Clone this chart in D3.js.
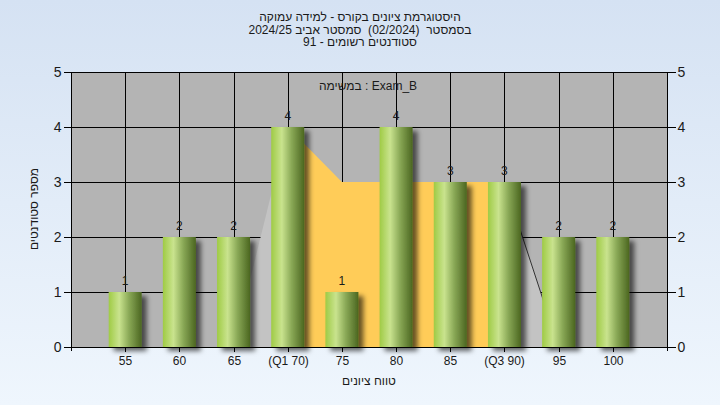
<!DOCTYPE html>
<html>
<head>
<meta charset="utf-8">
<script src="https://cdn.jsdelivr.net/npm/d3@7/dist/d3.min.js"></script>
<style>
  html, body { margin: 0; padding: 0; }
  body { width: 720px; height: 405px; overflow: hidden; }
  svg text { font-family: "Liberation Sans", Arial, sans-serif; fill: #1a1a1a; white-space: pre; }
</style>
</head>
<body>
<svg id="chart" width="720" height="405"></svg>
<script>
// ---- data ----
const categories = [55, 60, 65, 70, 75, 80, 85, 90, 95, 100];
const tickLabels = ["55", "60", "65", "(Q1 70)", "75", "80", "85", "(Q3 90)", "95", "100"];
const counts = [1, 2, 2, 4, 1, 4, 3, 3, 2, 2];
// overlay area (quartile band) : grade -> height
const areaGrades = [65, 70, 75, 80, 85, 90, 95];
const areaValues = [0, 4, 3, 3, 3, 3, 0];
const q1 = 70, q3 = 90;
const yTicks = [0, 1, 2, 3, 4, 5];
const titleLines = [
  "היסטוגרמת ציונים בקורס - למידה עמוקה",
  "בסמסטר  (02/2024)  סמסטר אביב 2024/25",
  "סטודנטים רשומים - 91"
];
const subtitle = "במשימה : Exam_B";
const xTitle = "טווח ציונים";
const yTitle = "מספר סטודנטים";

// ---- layout ----
const W = 720, H = 405;
const plot = { left: 71, right: 667, top: 72, bottom: 347 };
const svg = d3.select("#chart");
const defs = svg.append("defs");

const bg = defs.append("linearGradient").attr("id", "bg").attr("x1", 0).attr("y1", 0).attr("x2", 0).attr("y2", 1);
bg.append("stop").attr("offset", "0%").attr("stop-color", "#d5e2f3");
bg.append("stop").attr("offset", "100%").attr("stop-color", "#eff6fd");

const bar = defs.append("linearGradient").attr("id", "bar").attr("x1", 0).attr("y1", 0).attr("x2", 1).attr("y2", 0);
[["0%", "#9fcb45"], ["32%", "#c9e38e"], ["62%", "#89a856"], ["100%", "#4b6620"]].forEach(([o, c]) =>
  bar.append("stop").attr("offset", o).attr("stop-color", c));

const sh = defs.append("filter").attr("id", "shadow").attr("x", "-30%").attr("y", "-10%").attr("width", "170%").attr("height", "130%");
sh.append("feDropShadow").attr("dx", 5).attr("dy", 4).attr("stdDeviation", 2.4)
  .attr("flood-color", "#000").attr("flood-opacity", 0.6);

svg.append("rect").attr("width", W).attr("height", H).attr("fill", "url(#bg)");

const x = d3.scaleLinear().domain([50, 105]).range([plot.left, plot.right]);
const y = d3.scaleLinear().domain([0, 5]).range([plot.bottom, plot.top]);

// plot background
svg.append("rect").attr("x", plot.left).attr("y", plot.top)
  .attr("width", plot.right - plot.left).attr("height", plot.bottom - plot.top)
  .attr("fill", "#b4b4b4");

// grid
const grid = svg.append("g").attr("stroke", "#000").attr("stroke-width", 1).attr("shape-rendering", "crispEdges");
grid.selectAll("line.h").data(yTicks).join("line")
  .attr("x1", plot.left).attr("x2", plot.right)
  .attr("y1", d => Math.round(y(d)) + 0.5).attr("y2", d => Math.round(y(d)) + 0.5);
grid.selectAll("line.v").data(categories).join("line")
  .attr("y1", plot.top).attr("y2", plot.bottom)
  .attr("x1", d => Math.round(x(d)) + 0.5).attr("x2", d => Math.round(x(d)) + 0.5);

// overlay areas
const pts = areaGrades.map((g, i) => ({ g, v: areaValues[i] }));
const area = d3.area().x(d => x(d.g)).y0(y(0)).y1(d => y(d.v));
const left = pts.filter(d => d.g <= q1);
const mid = pts.filter(d => d.g >= q1 && d.g <= q3);
const right = pts.filter(d => d.g >= q3);
svg.append("path").attr("d", area(left)).attr("fill", "#c3c3c3");
svg.append("path").attr("d", area(right)).attr("fill", "#c3c3c3");
svg.append("path").attr("d", area(mid)).attr("fill", "#ffcc58");
svg.append("path").attr("d", d3.line().x(d => x(d.g)).y(d => y(d.v))(right))
  .attr("fill", "none").attr("stroke", "#333").attr("stroke-width", 1);

// axes
const axL = d3.axisLeft(y).tickValues(yTicks).tickSize(8).tickPadding(2).tickFormat(d3.format("d"));
const axR = d3.axisRight(y).tickValues(yTicks).tickSize(8).tickPadding(2).tickFormat(d3.format("d"));
const axB = d3.axisBottom(x).tickValues(categories).tickSize(4).tickPadding(5)
  .tickFormat((d, i) => tickLabels[i]);

function style(g, fs) {
  g.select(".domain").remove();
  g.selectAll(".tick line").attr("stroke", "#000").attr("shape-rendering", "crispEdges");
  g.selectAll(".tick text").attr("font-size", fs).attr("fill", "#1a1a1a")
    .attr("font-family", "'Liberation Sans', Arial, sans-serif");
}
svg.append("g").attr("transform", `translate(${plot.left + 0.5},0)`).call(axL).call(g => style(g, 14))
  .selectAll(".tick").attr("transform", d => `translate(0,${Math.round(y(d)) + 0.5})`);
svg.append("g").attr("transform", `translate(${plot.right + 0.5},0)`).call(axR).call(g => style(g, 14))
  .selectAll(".tick").attr("transform", d => `translate(0,${Math.round(y(d)) + 0.5})`);
svg.append("g").attr("transform", `translate(0,${plot.bottom + 0.5})`).call(axB).call(g => style(g, 12))
  .selectAll(".tick").attr("transform", d => `translate(${Math.round(x(d)) + 0.5},0)`);

// axis lines
const axes = svg.append("g").attr("stroke", "#000").attr("shape-rendering", "crispEdges");
axes.append("line").attr("x1", plot.left + 0.5).attr("x2", plot.left + 0.5).attr("y1", plot.top).attr("y2", plot.bottom + 4);
axes.append("line").attr("x1", plot.right + 0.5).attr("x2", plot.right + 0.5).attr("y1", plot.top).attr("y2", plot.bottom + 4);
axes.append("line").attr("x1", plot.left).attr("x2", plot.right).attr("y1", plot.bottom + 0.5).attr("y2", plot.bottom + 0.5);

// bars
const bw = 33;
svg.append("g").attr("filter", "url(#shadow)")
  .selectAll("rect").data(counts).join("rect")
  .attr("x", (d, i) => x(categories[i]) - bw / 2)
  .attr("y", d => y(d))
  .attr("width", bw)
  .attr("height", d => y(0) - y(d))
  .attr("fill", "url(#bar)");

// value labels
svg.append("g").selectAll("text").data(counts).join("text")
  .attr("x", (d, i) => x(categories[i]))
  .attr("y", d => y(d) - 7)
  .attr("text-anchor", "middle").attr("font-size", 12)
  .text(d => d);

// titles
svg.append("g").selectAll("text").data(titleLines).join("text")
  .attr("x", 360).attr("y", (d, i) => 21 + i * 12.5)
  .attr("text-anchor", "middle").attr("direction", "rtl").attr("font-size", 12)
  .text(d => d);

svg.append("text").attr("x", 368).attr("y", 90).attr("text-anchor", "middle")
  .attr("direction", "ltr").attr("font-size", 12).text(subtitle);

svg.append("text").attr("x", 369).attr("y", 385).attr("text-anchor", "middle")
  .attr("direction", "rtl").attr("font-size", 12).text(xTitle);

svg.append("text").attr("transform", "translate(38,209) rotate(-90)").attr("text-anchor", "middle")
  .attr("direction", "rtl").attr("font-size", 12).text(yTitle);
</script>
</body>
</html>
